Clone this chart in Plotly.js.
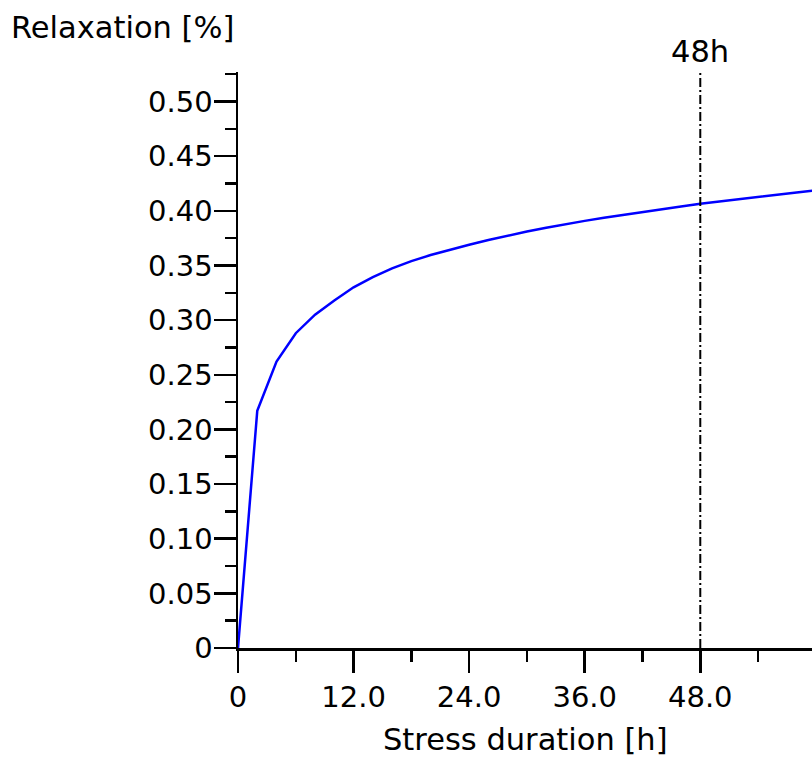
<!DOCTYPE html>
<html>
<head>
<meta charset="utf-8">
<script src="https://cdn.plot.ly/plotly-3.0.1.min.js"></script>
<style>html,body{margin:0;padding:0;background:#fff;}#chart{width:812px;height:763px;}</style>
</head>
<body>
<div id="chart"></div>
<script>
// Data
const hours = [0, 2, 4, 6, 8, 10, 12, 14, 16, 18, 20, 22, 24, 26, 28, 30, 32, 34, 36, 38, 40, 42, 44, 46, 48, 50, 52, 54, 56, 58, 60];
const relaxation = [0, 0.217, 0.262, 0.288, 0.305, 0.318, 0.330, 0.3393, 0.3473, 0.354, 0.3595, 0.3645, 0.369, 0.3733, 0.3773, 0.381, 0.3845, 0.3878, 0.3908, 0.3937, 0.3964, 0.399, 0.4015, 0.404, 0.4065, 0.4087, 0.4108, 0.4128, 0.4148, 0.4168, 0.4187];
const markerHour = 48;
const markerLabel = "48h";
const xTickVals = [0, 12, 24, 36, 48];
const xTickText = ["0", "12.0", "24.0", "36.0", "48.0"];
const yTickVals = [0, 0.05, 0.10, 0.15, 0.20, 0.25, 0.30, 0.35, 0.40, 0.45, 0.50];
const yTickText = ["0", "0.05", "0.10", "0.15", "0.20", "0.25", "0.30", "0.35", "0.40", "0.45", "0.50"];
const yTitle = "Relaxation [%]";
const xTitle = "Stress duration [h]";

const FONT = "DejaVu Sans, Verdana, sans-serif";

const trace = {
  x: hours, y: relaxation, type: "scatter", mode: "lines",
  line: {color: "#0000ff", width: 2.5},
  hoverinfo: "skip", showlegend: false
};

const axisCommon = {
  showgrid: false, zeroline: false, showline: true,
  linecolor: "#000", linewidth: 2.5,
  ticks: "outside", ticklen: 22, tickwidth: 2.5, tickcolor: "#000",
  tickfont: {family: FONT, size: 29, color: "#000"},
  tickmode: "array", fixedrange: true
};

const layout = {
  width: 812, height: 763,
  margin: {l: 238, r: 0, t: 72, b: 115},
  paper_bgcolor: "#fff", plot_bgcolor: "#fff",
  xaxis: Object.assign({}, axisCommon, {
    range: [0, 59.6], tickvals: xTickVals, ticktext: xTickText,
    minor: {ticks: "outside", ticklen: 11, tickwidth: 2.5, tickcolor: "#000", dtick: 6, tick0: 0, showgrid: false}
  }),
  yaxis: Object.assign({}, axisCommon, {
    range: [0, 0.527], tickvals: yTickVals, ticktext: yTickText,
    ticklabelstandoff: -5,
    minor: {ticks: "outside", ticklen: 11, tickwidth: 2.5, tickcolor: "#000", dtick: 0.025, tick0: 0, showgrid: false}
  }),
  shapes: [{
    type: "line", xref: "x", yref: "paper",
    x0: markerHour, x1: markerHour, y0: 0, y1: 1.0035,
    line: {color: "#000", width: 2, dash: "9px,3px,2px,3px"}
  }],
  annotations: [
    {text: yTitle, xref: "paper", yref: "paper", x: -0.3990, y: 1.078, xanchor: "left", yanchor: "middle",
     showarrow: false, font: {family: FONT, size: 30.5, color: "#000"}},
    {text: markerLabel, xref: "x", yref: "paper", x: markerHour, y: 1.036, xanchor: "center", yanchor: "middle",
     showarrow: false, font: {family: FONT, size: 30.5, color: "#000"}},
    {text: xTitle, xref: "paper", yref: "paper", x: 0.5, y: -0.158, xanchor: "center", yanchor: "middle",
     showarrow: false, font: {family: FONT, size: 30.5, color: "#000"}}
  ]
};

Plotly.newPlot("chart", [trace], layout, {displayModeBar: false, staticPlot: true});
</script>
</body>
</html>
